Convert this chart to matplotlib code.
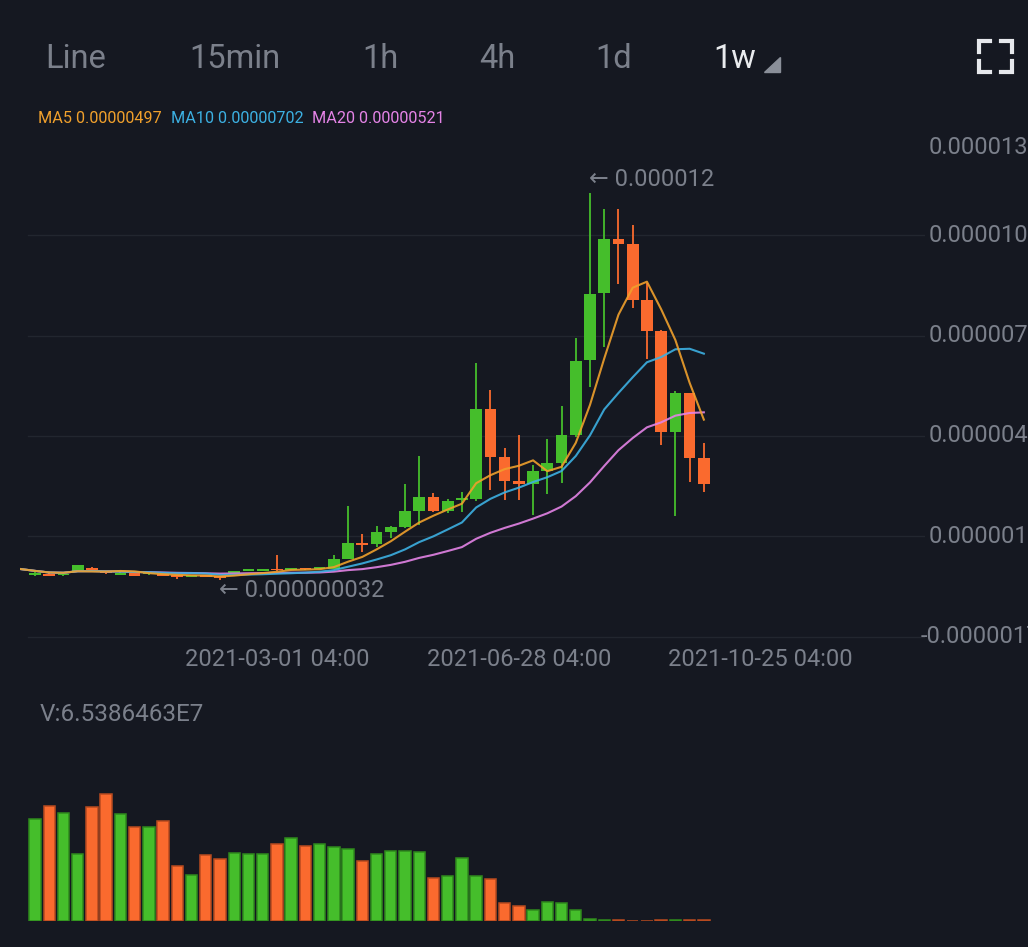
import numpy as np
import pandas as pd
import matplotlib.pyplot as plt
from matplotlib.patches import Polygon
from matplotlib import transforms

plt.rcParams['font.family'] = ['Roboto', 'DejaVu Sans']

# weekly candles, prices in units of 1e-6
start_date = pd.Timestamp('2020-11-02 04:00')
prior_close = 0.36
opens = [0.176, 0.217, 0.167, 0.279, 0.393, 0.279, 0.176, 0.229, 0.200, 0.198,
         0.186, 0.105, 0.176, 0.146, 0.24, 0.30, 0.31, 0.362, 0.33, 0.39,
         0.36, 0.359, 0.669, 1.164, 1.13, 1.51, 1.66, 2.15, 2.59, 2.15,
         2.50, 2.53, 5.32, 3.83, 3.09, 2.99, 3.40, 3.64, 4.51, 6.83,
         8.90, 10.58, 10.42, 8.69, 7.73, 4.60, 5.81, 3.80]
highs = [0.26, 0.23, 0.22, 0.50, 0.42, 0.29, 0.26, 0.24, 0.23, 0.21,
         0.19, 0.18, 0.18, 0.15, 0.31, 0.34, 0.37, 0.796, 0.37, 0.40,
         0.42, 0.793, 2.31, 1.45, 1.69, 1.70, 2.99, 3.86, 2.72, 2.53,
         2.75, 6.74, 5.89, 4.11, 4.51, 3.58, 4.39, 5.41, 7.51, 12.0,
         11.5, 11.5, 11.0, 9.21, 7.75, 5.87, 5.82, 4.26]
lows = [0.16, 0.15, 0.16, 0.27, 0.31, 0.22, 0.17, 0.15, 0.19, 0.15,
        0.053, 0.10, 0.11, 0.032, 0.23, 0.29, 0.30, 0.30, 0.32, 0.34,
        0.35, 0.35, 0.66, 0.89, 1.04, 1.32, 1.64, 1.72, 2.12, 2.09,
        2.13, 2.47, 2.81, 2.50, 2.50, 2.03, 2.68, 3.02, 4.45, 6.00,
        7.24, 9.18, 8.44, 6.86, 4.20, 2.00, 3.06, 2.75]
closes = [0.248, 0.155, 0.217, 0.486, 0.322, 0.229, 0.248, 0.155, 0.220, 0.155,
          0.124, 0.176, 0.115, 0.074, 0.30, 0.33, 0.353, 0.322, 0.36, 0.35,
          0.40, 0.669, 1.164, 1.10, 1.51, 1.66, 2.15, 2.59, 2.15, 2.47,
          2.56, 5.32, 3.83, 3.09, 2.99, 3.40, 3.64, 4.51, 6.80, 8.87,
          10.58, 10.42, 8.69, 7.73, 4.60, 5.81, 3.80, 2.99]
# volume in units of 1e7
volumes = [997, 1125, 1063, 654, 1115, 1246, 1050, 925, 925, 981,
           540, 448, 647, 611, 670, 661, 661, 759, 814, 736,
           759, 723, 706, 592, 661, 687, 687, 677, 425, 441,
           621, 438, 412, 180, 147, 111, 186, 177, 105, 23,
           9.8, 6.5, 4.9, 4.9, 6.5, 6.5, 13, 6.5386463]

ma_periods = [5, 10, 20]
ma_last = [0.00000497, 0.00000702, 0.00000521]
y_ticks = [-1.74, 1.37, 4.48, 7.59, 10.70, 13.4]
date_ticks = [17, 34, 51]
tabs = ['Line', '15min', '1h', '4h', '1d', '1w']

BG = '#151821'
GRID = '#22262f'
TXT = '#7b808b'
UP = '#45be2b'
DOWN = '#fa6a2e'
MA_COLORS = ['#f0a02c', '#3cb0e2', '#e483e6']

W, H = 1028, 947


def box(l, t, r, b):
    return [l / W, 1 - b / H, (r - l) / W, (b - t) / H]


fig = plt.figure(figsize=(W / 100, H / 100), dpi=100, facecolor=BG)

# price panel
ax = fig.add_axes(box(20, 130, 925, 645))
ax.set_facecolor(BG)
for s in ax.spines.values():
    s.set_visible(False)

o = np.array(opens) * 1e-6
h = np.array(highs) * 1e-6
l = np.array(lows) * 1e-6
c = np.array(closes) * 1e-6
x = np.arange(len(c))
colors = np.where(c >= o, UP, DOWN)

for v in y_ticks[:-1]:
    ax.axhline(v * 1e-6, xmin=8 / 905, color=GRID, lw=1, zorder=1)

ax.vlines(x, l, h, colors=colors, lw=1.3, zorder=2)
ax.bar(x, np.maximum(np.abs(c - o), 0.05e-6), 0.82, bottom=np.minimum(o, c),
       color=colors, zorder=3)

series = pd.Series([prior_close] + closes) * 1e-6
xs = np.arange(-1, len(closes))
for n, col, z in zip(ma_periods, MA_COLORS, [6, 5, 4]):
    ax.plot(xs, series.rolling(n, min_periods=1).mean(), color=col, lw=1.5,
            alpha=0.9, zorder=z)

ax.set_xlim(-1.054, 62.54)
ax.set_ylim(-1.991e-6, 13.954e-6)
ax.set_yticks([])
ax.set_xticks(date_ticks)
ax.set_xticklabels([(start_date + pd.Timedelta(weeks=i)).strftime('%Y-%m-%d %H:%M')
                    for i in date_ticks])
ax.tick_params(axis='x', length=0, colors=TXT, labelsize=17, pad=2)

# right-side price labels, running off the edge of the screen like the app
trans = transforms.blended_transform_factory(fig.transFigure, ax.transData)
for v in y_ticks:
    ax.text((929 if v >= 0 else 921) / W, v * 1e-6, f'{v * 1e-6:.7f}',
            transform=trans, ha='left', va='center', fontsize=17,
            color=TXT, clip_on=False)

# highest / lowest markers
ih = int(np.argmax(h))
il = int(np.argmin(l))
ax.annotate(f'\u2190 {h[ih]:.6f}', xy=(ih, h[ih]), xytext=(-1, 9.5),
            textcoords='offset points', ha='left', va='center',
            fontsize=17, color=TXT)
ax.annotate(f'\u2190 {l[il]:.9f}', xy=(il, l[il]), xytext=(-1, -7.5),
            textcoords='offset points', ha='left', va='center',
            fontsize=17, color=TXT)

# volume panel
vax = fig.add_axes(box(20, 760, 925, 921))
vax.set_facecolor(BG)
vax.axis('off')
edge = np.where(c >= o, '#2f8a1d', '#b84a1f')
vax.bar(x, volumes, 0.8, color=colors, edgecolor=edge, lw=1.1)
vax.set_xlim(-1.054, 62.54)
vax.set_ylim(0, 1580)

# header / overlay texts
ui = fig.add_axes([0, 0, 1, 1])
ui.set_xlim(0, W)
ui.set_ylim(H, 0)
ui.axis('off')
ui.patch.set_alpha(0)

tab_x = [76, 235, 380, 497, 614, 735]
for t, tx in zip(tabs, tab_x):
    ui.text(tx, 59, t, ha='center', va='center', fontsize=23.5,
            color='#e9ebee' if t == '1w' else TXT)
ui.add_patch(Polygon([(764, 72), (780, 72), (780, 57)], closed=True,
                     color='#8a8f99'))
for pts in [[(979, 52), (979, 41), (990, 41)], [(1001, 41), (1012, 41), (1012, 52)],
            [(979, 61), (979, 72), (990, 72)], [(1001, 72), (1012, 72), (1012, 61)]]:
    px, py = zip(*pts)
    ui.plot(px, py, color='#e6e8ec', lw=3, solid_joinstyle='miter')

for n, val, col, tx in zip(ma_periods, ma_last, MA_COLORS, [38, 171, 312]):
    ui.text(tx, 118, f'MA{n} {val:.8f}', ha='left', va='center',
            fontsize=11.7, color=col)

ui.text(40, 714, f'V:{volumes[-1]:.7f}E7', ha='left', va='center',
        fontsize=17.5, color=TXT)

fig.savefig('out.png', dpi=100, facecolor=BG)
